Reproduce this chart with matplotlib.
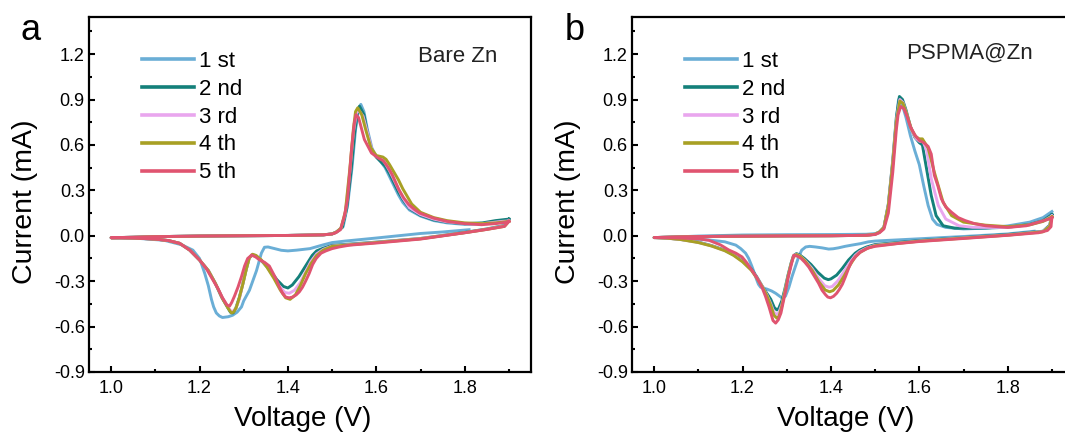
import matplotlib
matplotlib.use("Agg")
import matplotlib.pyplot as plt
from matplotlib.ticker import MultipleLocator, FormatStrFormatter

plt.rcParams['font.family'] = ['Liberation Sans', 'DejaVu Sans']
plt.rcParams['axes.unicode_minus'] = False

# ---------------- data ----------------
labels = ["1 st", "2 nd", "3 rd", "4 th", "5 th"]
colors = ["#6aaed6", "#14807a", "#e9a6ee", "#a8a024", "#e05470"]
panel_letters = ["a", "b"]
panel_titles = ["Bare Zn", "PSPMA@Zn"]
x_ticks = [1.0, 1.2, 1.4, 1.6, 1.8]
y_ticks = [-0.9, -0.6, -0.3, 0.0, 0.3, 0.6, 0.9, 1.2]

# ---- panel a (Bare Zn) ----
a1_v = [1.81, 1.75, 1.70, 1.60, 1.53, 1.50, 1.48, 1.45, 1.42, 1.40, 1.385, 1.37, 1.355, 1.347, 1.34,
        1.329, 1.313, 1.30, 1.295, 1.285, 1.275, 1.265, 1.252, 1.245, 1.238, 1.232, 1.227, 1.22, 1.212,
        1.205, 1.20, 1.185, 1.16, 1.12, 1.06, 1.00,
        1.05, 1.10, 1.20, 1.30, 1.40, 1.48, 1.50, 1.51, 1.525, 1.535, 1.545, 1.553, 1.56, 1.565, 1.572,
        1.58, 1.59, 1.60, 1.61, 1.62, 1.63, 1.64, 1.65, 1.66, 1.675, 1.70, 1.73, 1.76, 1.80, 1.84, 1.87,
        1.885, 1.90]
a1_i = [0.040, 0.025, 0.015, -0.015, -0.035, -0.045, -0.060, -0.085, -0.095, -0.100, -0.096, -0.085,
        -0.074, -0.076, -0.115, -0.230, -0.360, -0.430, -0.470, -0.505, -0.525, -0.535, -0.540, -0.530,
        -0.510, -0.470, -0.420, -0.330, -0.250, -0.190, -0.150, -0.095, -0.060, -0.030, -0.017, -0.013,
        -0.010, -0.006, -0.002, 0.000, 0.002, 0.006, 0.012, 0.025, 0.060, 0.200, 0.450, 0.700, 0.840,
        0.868, 0.820, 0.700, 0.580, 0.520, 0.490, 0.450, 0.390, 0.330, 0.270, 0.220, 0.170, 0.130, 0.100,
        0.085, 0.075, 0.078, 0.092, 0.100, 0.105]

a2_v = [1.90, 1.89, 1.85, 1.80, 1.70, 1.60, 1.50, 1.48, 1.465, 1.455, 1.44, 1.425, 1.41, 1.40, 1.39,
        1.375, 1.36, 1.345, 1.335, 1.325, 1.318, 1.312, 1.305, 1.297, 1.29, 1.282, 1.276, 1.27, 1.262,
        1.25, 1.235, 1.22, 1.20, 1.178, 1.155, 1.13, 1.10, 1.05, 1.00,
        1.05, 1.10, 1.20, 1.30, 1.40, 1.48, 1.50, 1.51, 1.523, 1.533, 1.543, 1.551, 1.558, 1.562, 1.572,
        1.58, 1.59, 1.60, 1.61, 1.62, 1.63, 1.64, 1.65, 1.66, 1.675, 1.70, 1.73, 1.76, 1.80, 1.84, 1.87,
        1.885, 1.90]
a2_i = [0.110, 0.068, 0.045, 0.022, -0.018, -0.042, -0.064, -0.082, -0.100, -0.130, -0.200, -0.270,
        -0.325, -0.345, -0.335, -0.290, -0.230, -0.180, -0.150, -0.130, -0.128, -0.150, -0.230, -0.330,
        -0.410, -0.480, -0.510, -0.505, -0.465, -0.405, -0.310, -0.230, -0.160, -0.095, -0.050, -0.032,
        -0.022, -0.015, -0.013,
        -0.010, -0.006, -0.002, 0.000, 0.002, 0.006, 0.012, 0.025, 0.055, 0.180, 0.430, 0.680, 0.830,
        0.856, 0.800, 0.680, 0.560, 0.520, 0.490, 0.460, 0.410, 0.350, 0.290, 0.240, 0.180, 0.135, 0.105,
        0.090, 0.080, 0.085, 0.100, 0.105, 0.110]

a3_v = [1.90, 1.89, 1.85, 1.80, 1.70, 1.60, 1.50, 1.48, 1.465, 1.452, 1.44, 1.428, 1.415, 1.403, 1.393,
        1.38, 1.365, 1.35, 1.338, 1.327, 1.318, 1.312, 1.305, 1.297, 1.29, 1.282, 1.276, 1.27, 1.262,
        1.25, 1.235, 1.22, 1.20, 1.178, 1.155, 1.13, 1.10, 1.05, 1.00,
        1.05, 1.10, 1.20, 1.30, 1.40, 1.48, 1.50, 1.51, 1.52, 1.53, 1.54, 1.548, 1.555, 1.56, 1.57,
        1.58, 1.59, 1.60, 1.612, 1.62, 1.63, 1.64, 1.65, 1.66, 1.675, 1.70, 1.73, 1.76, 1.80, 1.84, 1.87,
        1.885, 1.90]
a3_i = [0.100, 0.065, 0.043, 0.020, -0.018, -0.044, -0.068, -0.090, -0.120, -0.170, -0.240, -0.310,
        -0.360, -0.380, -0.375, -0.330, -0.260, -0.195, -0.155, -0.130, -0.125, -0.150, -0.230, -0.330,
        -0.420, -0.480, -0.500, -0.495, -0.460, -0.400, -0.310, -0.230, -0.160, -0.095, -0.050, -0.032,
        -0.022, -0.015, -0.013,
        -0.010, -0.006, -0.002, 0.000, 0.002, 0.006, 0.012, 0.025, 0.050, 0.150, 0.420, 0.680, 0.810,
        0.830, 0.790, 0.680, 0.570, 0.525, 0.510, 0.480, 0.430, 0.370, 0.310, 0.250, 0.185, 0.140, 0.110,
        0.092, 0.082, 0.080, 0.090, 0.095, 0.098]

a4_v = [1.90, 1.89, 1.85, 1.80, 1.70, 1.60, 1.50, 1.48, 1.465, 1.452, 1.44, 1.428, 1.417, 1.405, 1.395,
        1.383, 1.368, 1.352, 1.34, 1.328, 1.32, 1.313, 1.306, 1.298, 1.29, 1.283, 1.277, 1.272, 1.265,
        1.252, 1.237, 1.22, 1.20, 1.178, 1.155, 1.13, 1.10, 1.05, 1.00,
        1.05, 1.10, 1.20, 1.30, 1.40, 1.48, 1.50, 1.51, 1.52, 1.53, 1.54, 1.548, 1.553, 1.558, 1.567,
        1.577, 1.588, 1.60, 1.615, 1.622, 1.63, 1.64, 1.65, 1.66, 1.67, 1.68, 1.70, 1.73, 1.76, 1.80, 1.84,
        1.87, 1.90]
a4_i = [0.095, 0.062, 0.042, 0.020, -0.020, -0.045, -0.070, -0.095, -0.130, -0.185, -0.250, -0.330,
        -0.390, -0.420, -0.410, -0.360, -0.280, -0.205, -0.160, -0.130, -0.122, -0.145, -0.220, -0.320,
        -0.410, -0.475, -0.505, -0.510, -0.480, -0.415, -0.320, -0.230, -0.160, -0.095, -0.050, -0.032,
        -0.022, -0.015, -0.013,
        -0.010, -0.006, -0.002, 0.000, 0.002, 0.006, 0.012, 0.025, 0.050, 0.160, 0.440, 0.700, 0.820,
        0.845, 0.800, 0.690, 0.580, 0.530, 0.520, 0.505, 0.470, 0.420, 0.370, 0.310, 0.260, 0.210, 0.155,
        0.120, 0.100, 0.085, 0.080, 0.085, 0.095]

a5_v = [1.90, 1.89, 1.85, 1.80, 1.70, 1.60, 1.54, 1.516, 1.50, 1.486, 1.475, 1.464, 1.456, 1.448, 1.44,
        1.433, 1.426, 1.419, 1.411, 1.403, 1.395, 1.388, 1.381, 1.374, 1.366, 1.358, 1.347, 1.336, 1.327,
        1.318, 1.309, 1.302, 1.295, 1.287, 1.279, 1.273, 1.268, 1.262, 1.252, 1.242, 1.23, 1.215, 1.20,
        1.178, 1.155, 1.13, 1.10, 1.05, 1.00,
        1.05, 1.10, 1.20, 1.30, 1.40, 1.48, 1.50, 1.507, 1.519, 1.527, 1.535, 1.544, 1.55, 1.554, 1.56,
        1.573, 1.589, 1.604, 1.616, 1.626, 1.636, 1.651, 1.662, 1.674, 1.686, 1.698, 1.729, 1.76, 1.80,
        1.838, 1.869, 1.892, 1.90]
a5_i = [0.095, 0.062, 0.042, 0.020, -0.022, -0.048, -0.062, -0.074, -0.085, -0.100, -0.115, -0.150,
        -0.190, -0.250, -0.300, -0.340, -0.370, -0.390, -0.405, -0.410, -0.405, -0.380, -0.340, -0.290,
        -0.245, -0.200, -0.175, -0.160, -0.140, -0.128, -0.150, -0.200, -0.270, -0.340, -0.400, -0.440,
        -0.465, -0.457, -0.410, -0.350, -0.290, -0.215, -0.160, -0.095, -0.050, -0.032, -0.022, -0.015,
        -0.013,
        -0.010, -0.006, -0.002, 0.000, 0.002, 0.006, 0.012, 0.018, 0.040, 0.120, 0.240, 0.570, 0.740,
        0.800, 0.780, 0.636, 0.547, 0.514, 0.495, 0.455, 0.404, 0.305, 0.250, 0.205, 0.175, 0.150, 0.117,
        0.095, 0.080, 0.073, 0.080, 0.088, 0.095]

# ---- panel b (PSPMA@Zn) ----
b1_v = [1.86, 1.80, 1.70, 1.60, 1.50, 1.485, 1.467, 1.447, 1.432, 1.417, 1.405, 1.395, 1.38, 1.365,
        1.352, 1.343, 1.334, 1.327, 1.32, 1.312, 1.305, 1.297, 1.289, 1.282, 1.275, 1.266, 1.255, 1.246,
        1.241, 1.236, 1.232, 1.226, 1.221, 1.214, 1.207, 1.196, 1.185, 1.16, 1.124, 1.08, 1.04, 1.00,
        1.05, 1.10, 1.20, 1.30, 1.40, 1.48, 1.50, 1.51, 1.52, 1.53, 1.54, 1.548, 1.553, 1.56, 1.57, 1.58,
        1.59, 1.60, 1.61, 1.62, 1.63, 1.64, 1.66, 1.70, 1.75, 1.80, 1.85, 1.88, 1.90]
b1_i = [0.030, 0.012, -0.005, -0.020, -0.035, -0.040, -0.052, -0.062, -0.070, -0.080, -0.086, -0.088,
        -0.080, -0.074, -0.070, -0.074, -0.095, -0.140, -0.200, -0.270, -0.340, -0.400, -0.410, -0.395,
        -0.380, -0.365, -0.352, -0.345, -0.340, -0.320, -0.290, -0.240, -0.200, -0.150, -0.115, -0.085,
        -0.062, -0.040, -0.028, -0.018, -0.013, -0.012,
        -0.008, -0.002, 0.005, 0.007, 0.008, 0.010, 0.014, 0.025, 0.055, 0.200, 0.480, 0.760, 0.900,
        0.880, 0.780, 0.660, 0.560, 0.470, 0.330, 0.200, 0.110, 0.075, 0.055, 0.045, 0.050, 0.065, 0.090,
        0.120, 0.160]

b2_v = [1.90, 1.895, 1.88, 1.80, 1.70, 1.60, 1.50, 1.48, 1.465, 1.455, 1.44, 1.426, 1.413, 1.40, 1.394,
        1.385, 1.37, 1.355, 1.34, 1.33, 1.322, 1.315, 1.31, 1.303, 1.296, 1.289, 1.282, 1.278, 1.272,
        1.264, 1.255, 1.244, 1.232, 1.22, 1.20, 1.18, 1.16, 1.13, 1.10, 1.06, 1.03, 1.00,
        1.05, 1.10, 1.20, 1.30, 1.40, 1.48, 1.50, 1.51, 1.52, 1.53, 1.54, 1.548, 1.555, 1.562, 1.57,
        1.58, 1.59, 1.60, 1.607, 1.615, 1.627, 1.638, 1.654, 1.68, 1.72, 1.76, 1.80, 1.85, 1.88, 1.90]
b2_i = [0.140, 0.070, 0.030, 0.008, -0.012, -0.032, -0.058, -0.075, -0.095, -0.115, -0.160, -0.215,
        -0.260, -0.285, -0.290, -0.280, -0.240, -0.190, -0.150, -0.128, -0.118, -0.135, -0.180, -0.260,
        -0.350, -0.430, -0.480, -0.490, -0.475, -0.420, -0.380, -0.330, -0.270, -0.220, -0.165, -0.125,
        -0.095, -0.065, -0.042, -0.024, -0.016, -0.012,
        -0.008, -0.005, -0.003, -0.001, 0.000, 0.003, 0.010, 0.025, 0.055, 0.210, 0.500, 0.780, 0.920,
        0.900, 0.830, 0.720, 0.650, 0.615, 0.600, 0.466, 0.266, 0.133, 0.066, 0.050, 0.050, 0.052, 0.056,
        0.075, 0.100, 0.140]

b3_v = [1.90, 1.895, 1.88, 1.80, 1.70, 1.60, 1.50, 1.48, 1.465, 1.455, 1.442, 1.428, 1.415, 1.403,
        1.396, 1.386, 1.372, 1.357, 1.342, 1.331, 1.322, 1.315, 1.31, 1.303, 1.296, 1.289, 1.282, 1.277,
        1.271, 1.264, 1.255, 1.244, 1.232, 1.22, 1.20, 1.18, 1.16, 1.13, 1.10, 1.06, 1.03, 1.00,
        1.05, 1.10, 1.20, 1.30, 1.40, 1.48, 1.50, 1.51, 1.52, 1.53, 1.54, 1.548, 1.556, 1.563, 1.572,
        1.582, 1.592, 1.60, 1.609, 1.617, 1.627, 1.643, 1.66, 1.69, 1.72, 1.76, 1.80, 1.85, 1.88, 1.90]
b3_i = [0.130, 0.065, 0.028, 0.005, -0.014, -0.035, -0.063, -0.082, -0.105, -0.130, -0.180, -0.245,
        -0.300, -0.335, -0.340, -0.330, -0.280, -0.215, -0.165, -0.135, -0.122, -0.140, -0.185, -0.270,
        -0.365, -0.455, -0.510, -0.520, -0.505, -0.450, -0.390, -0.330, -0.275, -0.225, -0.170, -0.128,
        -0.098, -0.067, -0.044, -0.025, -0.016, -0.012,
        -0.008, -0.005, -0.003, -0.001, 0.000, 0.003, 0.010, 0.025, 0.055, 0.205, 0.490, 0.760, 0.900,
        0.880, 0.800, 0.700, 0.645, 0.625, 0.620, 0.560, 0.377, 0.200, 0.110, 0.066, 0.056, 0.055, 0.055,
        0.072, 0.095, 0.130]

b4_v = [1.90, 1.895, 1.88, 1.80, 1.70, 1.60, 1.50, 1.48, 1.465, 1.455, 1.443, 1.43, 1.417, 1.405,
        1.397, 1.387, 1.373, 1.358, 1.343, 1.332, 1.322, 1.315, 1.31, 1.303, 1.296, 1.289, 1.283, 1.278,
        1.271, 1.264, 1.255, 1.244, 1.232, 1.22, 1.20, 1.18, 1.16, 1.13, 1.10, 1.06, 1.03, 1.00,
        1.05, 1.10, 1.20, 1.30, 1.40, 1.48, 1.50, 1.51, 1.52, 1.53, 1.54, 1.548, 1.556, 1.563, 1.572,
        1.582, 1.592, 1.60, 1.607, 1.62, 1.634, 1.654, 1.673, 1.70, 1.75, 1.80, 1.85, 1.88, 1.90]
b4_i = [0.125, 0.062, 0.026, 0.004, -0.016, -0.036, -0.066, -0.086, -0.112, -0.140, -0.195, -0.265,
        -0.325, -0.362, -0.370, -0.358, -0.305, -0.230, -0.172, -0.138, -0.124, -0.140, -0.185, -0.270,
        -0.370, -0.465, -0.530, -0.545, -0.525, -0.460, -0.395, -0.333, -0.278, -0.228, -0.172, -0.130,
        -0.099, -0.068, -0.045, -0.025, -0.016, -0.012,
        -0.008, -0.005, -0.003, -0.001, 0.000, 0.003, 0.010, 0.025, 0.055, 0.200, 0.480, 0.750, 0.890,
        0.875, 0.800, 0.705, 0.655, 0.640, 0.640, 0.580, 0.420, 0.220, 0.133, 0.090, 0.070, 0.060, 0.072,
        0.095, 0.125]

b5_v = [1.90, 1.898, 1.89, 1.87, 1.80, 1.70, 1.60, 1.55, 1.50, 1.485, 1.467, 1.457, 1.447, 1.44, 1.433,
        1.426, 1.419, 1.413, 1.406, 1.399, 1.393, 1.388, 1.38, 1.372, 1.361, 1.35, 1.341, 1.332, 1.324,
        1.316, 1.309, 1.303, 1.298, 1.292, 1.287, 1.281, 1.275, 1.269, 1.265, 1.26, 1.252, 1.244, 1.233,
        1.221, 1.21, 1.199, 1.185, 1.169, 1.15, 1.124, 1.10, 1.06, 1.03, 1.00,
        1.05, 1.10, 1.20, 1.30, 1.40, 1.48, 1.50, 1.51, 1.52, 1.53, 1.54, 1.548, 1.552, 1.558, 1.565,
        1.572, 1.58, 1.59, 1.60, 1.61, 1.62, 1.627, 1.634, 1.642, 1.65, 1.66, 1.673, 1.688, 1.704, 1.725,
        1.75, 1.80, 1.842, 1.873, 1.896, 1.90]
b5_i = [0.120, 0.060, 0.035, 0.020, 0.003, -0.018, -0.038, -0.052, -0.070, -0.080, -0.107, -0.135,
        -0.170, -0.215, -0.270, -0.320, -0.355, -0.380, -0.400, -0.410, -0.405, -0.390, -0.360, -0.313,
        -0.260, -0.207, -0.175, -0.148, -0.135, -0.128, -0.207, -0.280, -0.360, -0.440, -0.510, -0.555,
        -0.577, -0.560, -0.520, -0.470, -0.400, -0.340, -0.280, -0.227, -0.180, -0.140, -0.115, -0.094,
        -0.060, -0.030, -0.020, -0.015, -0.013, -0.012,
        -0.008, -0.005, -0.003, -0.001, 0.000, 0.003, 0.008, 0.020, 0.045, 0.150, 0.420, 0.700, 0.800,
        0.854, 0.840, 0.790, 0.720, 0.665, 0.630, 0.615, 0.590, 0.540, 0.400, 0.330, 0.244, 0.190, 0.155,
        0.120, 0.100, 0.080, 0.066, 0.055, 0.066, 0.093, 0.112, 0.120]

panel_a = [(a1_v, a1_i), (a2_v, a2_i), (a3_v, a3_i), (a4_v, a4_i), (a5_v, a5_i)]
panel_b = [(b1_v, b1_i), (b2_v, b2_i), (b3_v, b3_i), (b4_v, b4_i), (b5_v, b5_i)]

# ---------------- figure ----------------
fig = plt.figure(figsize=(10.65, 4.34), dpi=100)
axA = fig.add_axes([89 / 1065, 62 / 434, 442 / 1065, 355 / 434])
axB = fig.add_axes([632 / 1065, 62 / 434, 442 / 1065, 355 / 434])

title_pos = [(0.744, 0.89), (0.62, 0.897)]
letter_pos = [(21 / 1065, 1 - 40 / 434), (565 / 1065, 1 - 40 / 434)]

for k, (ax, curves) in enumerate([(axA, panel_a), (axB, panel_b)]):
    for (v, cur), col, lab in zip(curves, colors, labels):
        ax.plot(v, cur, color=col, lw=2.1, label=lab, solid_joinstyle='round')
    ax.set_xlim(0.95, 1.95)
    ax.set_ylim(-0.9, 1.445)
    ax.set_xticks(x_ticks)
    ax.set_yticks(y_ticks)
    ax.xaxis.set_minor_locator(MultipleLocator(0.1))
    ax.yaxis.set_minor_locator(MultipleLocator(0.15))
    ax.xaxis.set_major_formatter(FormatStrFormatter('%.1f'))
    ax.yaxis.set_major_formatter(FormatStrFormatter('%.1f'))
    ax.tick_params(which='both', direction='in', top=False, right=False, width=1.5)
    ax.tick_params(which='major', length=4.5, labelsize=13)
    ax.tick_params(axis='x', which='major', pad=6)
    ax.tick_params(axis='y', which='major', pad=3)
    ax.tick_params(which='minor', length=2.5)
    for sp in ax.spines.values():
        sp.set_linewidth(1.6)
    ax.set_xlabel("Voltage (V)", fontsize=20)
    ax.set_ylabel("Current (mA)", fontsize=20.5)
    ax.xaxis.label.set_va('baseline')
    ax.xaxis.set_label_coords(0.484, -0.152)
    ax.yaxis.label.set_va('center')
    ax.yaxis.set_label_coords(-0.145, 0.479)
    ax.text(title_pos[k][0], title_pos[k][1], panel_titles[k], transform=ax.transAxes,
            fontsize=16, ha='left', va='center', color='#222222')
    fig.text(letter_pos[k][0], letter_pos[k][1], panel_letters[k], fontsize=26,
             ha='left', va='baseline')
    leg = ax.legend(loc='upper left', bbox_to_anchor=(0.119, 0.905), frameon=False,
                    fontsize=16, handlelength=2.35, handletextpad=0.25, labelspacing=0.31,
                    borderpad=0, borderaxespad=0)
    for h in leg.get_lines():
        h.set_linewidth(2.6)

fig.savefig("out.png", dpi=100)
